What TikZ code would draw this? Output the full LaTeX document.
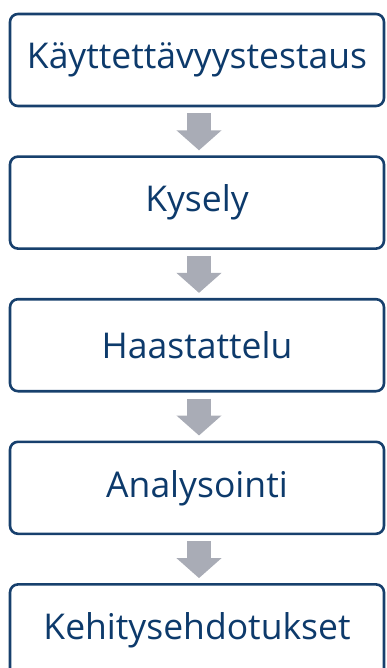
\documentclass[tikz,border=0pt]{standalone}
\usepackage{fontspec}
\setmainfont{Open Sans}
\usepackage{xcolor}
\usetikzlibrary{arrows.meta, positioning}

\definecolor{boxline}{HTML}{17406D}
\definecolor{boxtext}{HTML}{0D3A6B}
\definecolor{flowgray}{HTML}{A9ACB6}

\begin{document}
\begin{tikzpicture}[
    x=1pt, y=1pt,
    node distance=48pt,
    stage/.style={rectangle, draw=boxline, line width=2.6pt, rounded corners=8pt, minimum width=374pt, minimum height=92pt, align=center, text=boxtext, font=\fontsize{35.5}{40}\selectfont},
    flow/.style={-{Triangle[width=44pt, length=20pt]}, line width=24pt, draw=flowgray, shorten <=6pt, shorten >=5pt}
]
    \path[use as bounding box, clip] (0,0) rectangle (386,-668);

    \node[stage] (test) at (197,-60) {Käyttettävyystestaus};
    \node[stage, below=of test] (survey) {Kysely};
    \node[stage, below=of survey] (interview) {Haastattelu};
    \node[stage, below=of interview] (analysis) {Analysointi};
    \node[stage, below=of analysis] (ideas) {Kehitysehdotukset};

    \draw[flow] ([xshift=2pt]test.south) -- ([xshift=2pt]survey.north);
    \draw[flow] ([xshift=2pt]survey.south) -- ([xshift=2pt]interview.north);
    \draw[flow] ([xshift=2pt]interview.south) -- ([xshift=2pt]analysis.north);
    \draw[flow] ([xshift=2pt]analysis.south) -- ([xshift=2pt]ideas.north);
\end{tikzpicture}
\end{document}
